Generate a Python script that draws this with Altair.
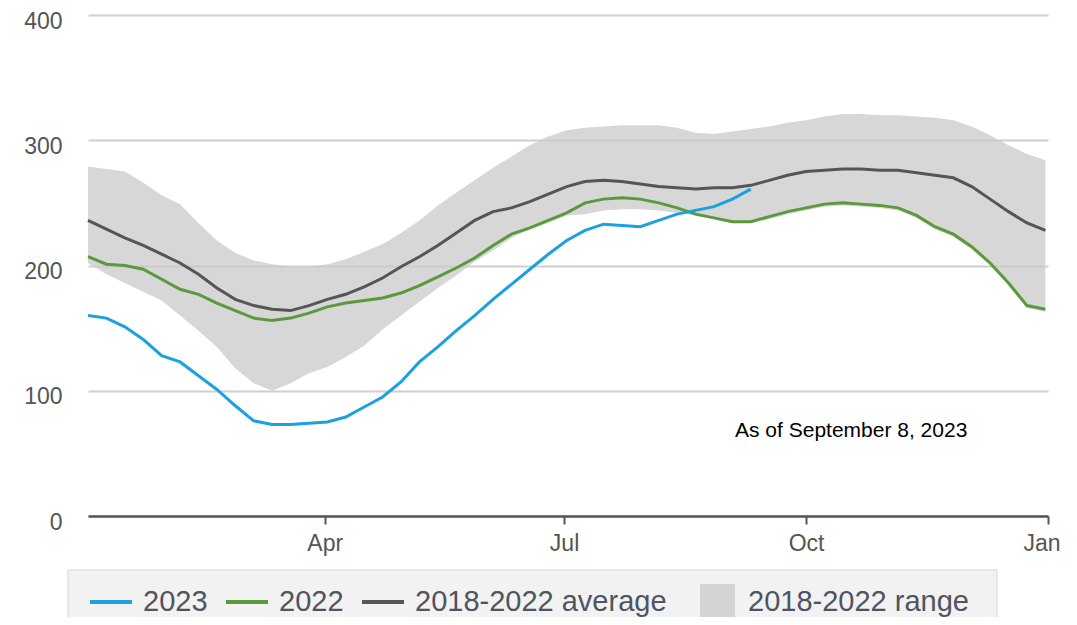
import altair as alt
import pandas as pd

# ---- data (weekly, starting Jan 1) ----
week_dates = pd.date_range("2023-01-01", periods=53, freq="7D").strftime("%Y-%m-%d").tolist()

v2023 = [160, 158, 151, 141, 128, 123, 112, 101, 88, 76, 73, 73, 74, 75, 79, 87, 95, 107,
         123, 135, 148, 160, 173, 185, 197, 209, 220, 228, 233, 232, 231, 236, 241, 244,
         247, 253, 261]
v2022 = [207, 201, 200, 197, 189, 181, 177, 170, 164, 158, 156, 158, 162, 167, 170, 172,
         174, 178, 184, 191, 198, 206, 216, 225, 230, 236, 242, 250, 253, 254, 253, 250,
         246, 241, 238, 235, 235, 239, 243, 246, 249, 250, 249, 248, 246, 240, 231, 225,
         215, 202, 186, 168, 165]
v_avg = [236, 229, 222, 216, 209, 202, 193, 182, 173, 168, 165, 164, 168, 173, 177, 183,
         190, 199, 207, 216, 226, 236, 243, 246, 251, 257, 263, 267, 268, 267, 265, 263,
         262, 261, 262, 262, 264, 268, 272, 275, 276, 277, 277, 276, 276, 274, 272, 270,
         263, 253, 243, 234, 228]
v_lo = [202, 193, 186, 179, 172, 160, 148, 135, 118, 106, 100, 106, 114, 119, 127, 136,
        149, 160, 171, 182, 192, 203, 212, 222, 229, 234, 240, 241, 244, 245, 245, 244,
        242, 240, 237, 234, 234, 237, 241, 244, 247, 248, 247, 246, 244, 238, 229, 223,
        213, 200, 184, 166, 163]
v_hi = [279, 277, 275, 266, 256, 249, 234, 220, 210, 204, 201, 199, 199, 201, 205, 211,
        217, 226, 236, 248, 258, 268, 278, 287, 296, 303, 308, 310, 311, 312, 312, 312,
        310, 306, 305, 307, 309, 311, 314, 316, 319, 321, 321, 320, 320, 319, 318, 316,
        311, 304, 296, 289, 284]

series_names = ["2023", "2022", "2018-2022 average"]
series_colors = ["#1ba0e0", "#5a9a3b", "#555555"]
range_name = "2018-2022 range"
range_color = "#c9c9c9"

y_ticks = [0, 100, 200, 300, 400]
note_date = ["2023-09-04"]
note_value = [68]
note_text = ["As of September 8, 2023"]

FONT = "Liberation Sans"
LEG_FONT = 29

# ---- tables ----
rows = []
for name, vals in zip(series_names, [v2023, v2022, v_avg]):
    for d, v in zip(week_dates, vals):
        rows.append({"date": d, "value": v, "series": name})
lines_df = pd.DataFrame(rows)
range_df = pd.DataFrame({"date": week_dates, "lo": v_lo, "hi": v_hi, "rng": range_name})
note_df = pd.DataFrame({"date": note_date, "value": note_value, "label": note_text})

x_enc = alt.X(
    "date:T",
    scale=alt.Scale(type="utc",
                    domain=[alt.DateTime(year=2023, month=1, date=1, utc=True),
                            alt.DateTime(year=2024, month=1, date=1, utc=True)]),
    axis=alt.Axis(
        title=None, grid=False,
        labelExpr="utcFormat(datum.value, '%b')",
        values=[alt.DateTime(year=2023, month=4, date=1, utc=True),
                alt.DateTime(year=2023, month=7, date=1, utc=True),
                alt.DateTime(year=2023, month=10, date=1, utc=True),
                alt.DateTime(year=2024, month=1, date=1, utc=True)],
        domainColor="#555555", domainWidth=2.5,
        tickColor="#555555", tickWidth=2, tickSize=8,
        labelFontSize=23, labelColor="#555555", labelFont=FONT, labelPadding=8,
        labelFlush=True, labelFlushOffset=12,
    ),
)

y_axis = alt.Axis(
    title=None, values=y_ticks, grid=True, gridColor="#cfcfcf", gridWidth=2,
    domain=False, ticks=False, labelFontSize=23, labelColor="#555555",
    labelFont=FONT, labelPadding=26, labelOffset=6,
)
y_scale = alt.Scale(domain=[0, 400], nice=False)

legend_box = alt.Chart(alt.Data(values=[{}])).mark_rect(
    fill="#f2f2f2", stroke="#e2e2e2", strokeWidth=1.5
).encode(x=alt.value(-20), x2=alt.value(909), y=alt.value(555), y2=alt.value(640))

area = alt.Chart(range_df).mark_area(opacity=0.75).encode(
    x=x_enc,
    y=alt.Y("lo:Q", scale=y_scale, axis=y_axis),
    y2="hi:Q",
    fill=alt.Fill(
        "rng:N",
        scale=alt.Scale(domain=[range_name], range=[range_color]),
        legend=alt.Legend(
            orient="none", legendX=612, legendY=569, direction="horizontal",
            title=None, symbolType="square", symbolSize=1225, symbolStrokeWidth=0,
            labelFontSize=LEG_FONT, labelColor="#4f5461", labelFont=FONT,
            labelOffset=13, padding=0, labelLimit=400,
        ),
    ),
)

color_enc = alt.Color(
    "series:N",
    scale=alt.Scale(domain=series_names, range=series_colors),
    legend=alt.Legend(
        orient="none", legendX=0, legendY=564, direction="horizontal",
        title=None, symbolType="stroke", symbolSize=1764, symbolStrokeWidth=4,
        labelFontSize=LEG_FONT, labelColor="#4f5461", labelFont=FONT,
        labelOffset=9, columnPadding=10, padding=0, labelLimit=400,
    ),
)

def line_layer(name):
    return alt.Chart(lines_df).transform_filter(
        alt.datum.series == name
    ).mark_line(strokeWidth=3).encode(
        x=x_enc,
        y=alt.Y("value:Q", scale=y_scale, axis=y_axis),
        color=color_enc,
    )

note = alt.Chart(note_df).mark_text(
    align="left", baseline="middle", fontSize=21, font=FONT, color="#000000"
).encode(x=x_enc, y=alt.Y("value:Q", scale=y_scale, axis=y_axis), text="label:N")

chart = alt.layer(
    legend_box, area,
    line_layer("2018-2022 average"), line_layer("2022"), line_layer("2023"),
    note,
).properties(
    width=960, height=501,
    autosize=alt.AutoSizeParams(type="none"),
    padding={"left": 80, "top": 7, "right": 13, "bottom": 101},
).configure(background="white").configure_view(stroke=None)

chart.save("out.html", embed_options={"renderer": "svg", "actions": False})
